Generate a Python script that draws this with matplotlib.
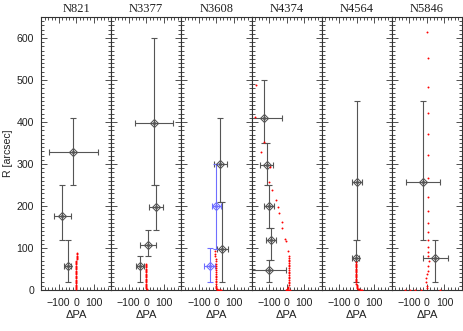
import matplotlib
matplotlib.use("Agg")
import matplotlib.pyplot as plt
from matplotlib.ticker import MultipleLocator, NullFormatter

# ---------------- data ----------------
names = ["N821", "N3377", "N3608", "N4374", "N4564", "N5846"]
x_ticks = [-100, 0, 100]
y_ticks = [0, 100, 200, 300, 400, 500, 600]

# measured points (gray): R, dPA, xerr, yerr_low, yerr_high
n821_r = [328, 177, 57]
n821_dpa = [-15, -78, -47]
n821_xerr = [140, 47, 20]
n821_ylo = [79, 59, 39]
n821_yhi = [81, 72, 61]

n3377_r = [398, 197, 108, 57]
n3377_dpa = [45, 55, 11, -36]
n3377_xerr = [108, 40, 46, 22]
n3377_ylo = [149, 55, 26, 39]
n3377_yhi = [201, 52, 34, 25]

n3608_r = [299, 97]
n3608_dpa = [23, 34]
n3608_xerr = [35, 30]
n3608_ylo = [90, 79]
n3608_yhi = [111, 112]

n3608b_r = [199, 57]
n3608b_dpa = [0, -38]
n3608b_xerr = [25, 31]
n3608b_ylo = [102, 38]
n3608b_yhi = [100, 42]

n4374_r = [409, 298, 199, 118, 48]
n4374_dpa = [-127, -114, -100, -91, -100]
n4374_xerr = [102, 38, 27, 28, 95]
n4374_ylo = [58, 49, 51, 46, 29]
n4374_yhi = [91, 53, 50, 30, 24]

n4564_r = [258, 77]
n4564_dpa = [0, -7]
n4564_xerr = [28, 22]
n4564_ylo = [140, 59]
n4564_yhi = [193, 41]

n5846_r = [258, 77]
n5846_dpa = [-25, 48]
n5846_xerr = [97, 70]
n5846_ylo = [140, 59]
n5846_yhi = [193, 41]

# red profiles: R, dPA
n821_red_r = [88, 85, 82, 79, 76, 73, 70, 67, 64, 61, 58, 55, 52, 49, 46, 43, 40, 37,
              34, 31, 28, 25, 22, 19, 16, 13, 10, 7, 4, 2]
n821_red_dpa = [4, 4, 3, 3, 3, 3, 2, 2, 2, 2, 1, 1, 1, 1, 0, 0, 0, 0,
                -1, -1, -1, -1, -2, -2, -2, -2, -2, -1, 0, 2]

n3377_red_r = [63, 60, 57, 54, 51, 48, 45, 42, 39, 36, 33, 30, 27, 24, 21, 18, 15, 12,
               9, 6, 4, 2]
n3377_red_dpa = [-2, -2, -2, -2, -2, -1, -1, -1, -1, -1, -1, -1, 0, 0, 0, 0, 0, 0,
                 0, 1, 1, 2]

n3608_red_r = [92, 86, 80, 74, 68, 62, 57, 52, 47, 42, 38, 34, 30, 26, 22, 18, 14, 10,
               7, 4, 2, 1, 1, 1, 1, 1]
n3608_red_dpa = [-6, -6, -6, -5, -5, -5, -4, -4, -4, -4, -3, -3, -3, -3, -2, -2, -2, -2,
                 -1, 0, 2, 6, 11, 16, 21, 25]

n4374_red_r = [488, 412, 352, 329, 293, 257, 239, 215, 197, 184, 162, 147, 122, 116, 94, 82,
               76, 72, 68, 64, 60, 56, 52, 48, 44, 40, 36, 32, 28, 24, 20, 16, 12, 8, 4, 2,
               1, 1, 1, 1, 1]
n4374_red_dpa = [-174, -182, -127, -144, -95, -99, -84, -63, -48, -42, -28, -25, -11, -6, 6, 11,
                 12, 12, 13, 13, 13, 13, 13, 13, 13, 13, 13, 12, 12, 12, 12, 11, 11, 10, 8, 5,
                 -6, 0, 10, 15, 19]

n4564_red_r = [66, 63, 60, 57, 54, 51, 48, 45, 42, 39, 36, 33, 30, 27, 24, 21, 18, 15,
               12, 9, 6, 4, 3, 2, 1, 1, 1]
n4564_red_dpa = [-6, -6, -6, -6, -5, -5, -5, -5, -5, -5, -4, -4, -4, -4, -3, -3, -3, -2,
                 -1, 0, 2, 4, 8, 14, 20, 26, 32]

n5846_red_r = [615, 552, 483, 422, 372, 322, 267, 221, 187, 159, 138, 118, 103, 91, 80, 68,
               56, 46, 37, 28, 18, 10, 5, 1, 1, 1, 1, 1]
n5846_red_dpa = [0, 6, 7, 9, 6, 6, 9, 7, 6, 6, 6, 6, 7, 8, 9, 10,
                 7, 4, 0, -3, -5, -2, 2, -123, -96, -66, -34, 76]

gray_sets = [
    (n821_r, n821_dpa, n821_xerr, n821_ylo, n821_yhi),
    (n3377_r, n3377_dpa, n3377_xerr, n3377_ylo, n3377_yhi),
    (n3608_r, n3608_dpa, n3608_xerr, n3608_ylo, n3608_yhi),
    (n4374_r, n4374_dpa, n4374_xerr, n4374_ylo, n4374_yhi),
    (n4564_r, n4564_dpa, n4564_xerr, n4564_ylo, n4564_yhi),
    (n5846_r, n5846_dpa, n5846_xerr, n5846_ylo, n5846_yhi),
]
red_sets = [
    (n821_red_r, n821_red_dpa),
    (n3377_red_r, n3377_red_dpa),
    (n3608_red_r, n3608_red_dpa),
    (n4374_red_r, n4374_red_dpa),
    (n4564_red_r, n4564_red_dpa),
    (n5846_red_r, n5846_red_dpa),
]

# ---------------- figure ----------------
W, H = 463, 331
fig = plt.figure(figsize=(W / 100, H / 100), dpi=100)
left, right = 41 / W, 462 / W
bottom, top = 1 - 290 / H, 1 - 17 / H
pw = (right - left) / 6

GRAY = "#555555"
BLUE = "#6f6fff"
sans = "Liberation Sans"
serif = "Liberation Serif"

for i, name in enumerate(names):
    ax = fig.add_axes([left + i * pw, bottom, pw, top - bottom])
    ax.set_xlim(-200, 200)
    ax.set_ylim(0, 650)

    r, d, xe, ylo, yhi = gray_sets[i]
    ax.errorbar(d, r, xerr=xe, yerr=[ylo, yhi], fmt="none", ecolor=GRAY,
                elinewidth=0.8, capsize=2.5, capthick=0.8, zorder=2)
    ax.plot(d, r, linestyle="none", marker="D", ms=4.5, mfc="none", mec=GRAY,
            mew=0.8, zorder=3)
    ax.plot(d, r, linestyle="none", marker="o", ms=1.8, mfc="none", mec=GRAY,
            mew=0.6, zorder=3)
    if name == "N3608":
        ax.errorbar(n3608b_dpa, n3608b_r, xerr=n3608b_xerr,
                    yerr=[n3608b_ylo, n3608b_yhi], fmt="none", ecolor=BLUE,
                    elinewidth=0.8, capsize=2.5, capthick=0.8, zorder=2)
        ax.plot(n3608b_dpa, n3608b_r, linestyle="none", marker="D", ms=4.5,
                mfc="none", mec=BLUE, mew=0.8, zorder=3)
        ax.plot(n3608b_dpa, n3608b_r, linestyle="none", marker="o", ms=1.8,
                mfc="none", mec=BLUE, mew=0.6, zorder=3)

    rr, rd = red_sets[i]
    ax.plot(rd, rr, linestyle="none", marker="o", ms=1.4, mfc="red", mec="red",
            mew=0, zorder=4, clip_on=True)

    ax.set_title(name, fontsize=9, family=serif, pad=3.5, color="#222222")
    ax.set_xticks(x_ticks)
    ax.xaxis.set_minor_locator(MultipleLocator(20))
    ax.set_yticks(y_ticks)
    ax.yaxis.set_minor_locator(MultipleLocator(10))
    ax.tick_params(which="both", direction="in", top=True, right=True,
                   colors="#333333", width=0.6)
    ax.tick_params(which="major", length=4)
    ax.tick_params(which="minor", length=2)
    ax.tick_params(axis="x", labelsize=7.6, pad=5.5, labelcolor="#222222")
    ax.tick_params(axis="y", labelsize=7.6, pad=5, labelcolor="#222222")
    for lab in ax.get_xticklabels() + ax.get_yticklabels():
        lab.set_family(sans)
    ax.set_xlabel("ΔPA", fontsize=8, family=sans, labelpad=1.5, color="#222222")
    if i == 0:
        ax.set_ylabel("R [arcsec]", fontsize=7.6, family=sans, labelpad=3,
                      color="#222222")
    else:
        ax.yaxis.set_major_formatter(NullFormatter())
    for sp in ax.spines.values():
        sp.set_linewidth(0.8)
        sp.set_color("#333333")

fig.savefig("out.png", dpi=100)
